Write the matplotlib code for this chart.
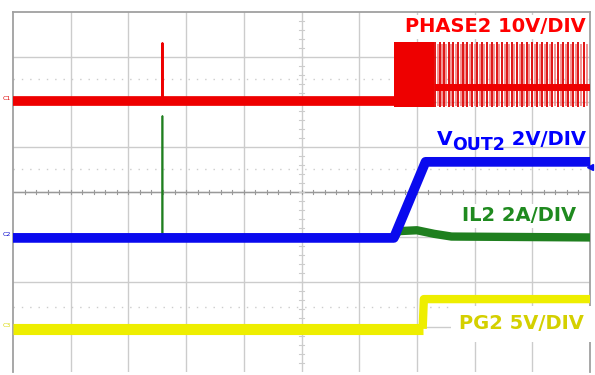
import numpy as np
import matplotlib.pyplot as plt

# all values in scope divisions (x: 0..10, y: -4..4)
# PHASE2 (switch node)
ph_base_x = [0.0, 6.62]
ph_base_y = [2.02, 2.02]
ph_spike_x = [2.585, 2.59, 2.595]
ph_spike_y = [2.02, 3.31, 2.02]
ph_block = [6.61, 7.29]          # start / end of dense switching block
ph_high, ph_low = 3.33, 1.89
ph_mid_x = [7.29, 10.0]
ph_mid_y = [2.34, 2.34]
pulses_strong = [7.32, 7.40, 7.47, 7.55, 7.63, 7.72, 7.80, 7.87, 7.96, 8.05, 8.13,
                 8.21, 8.30, 8.38, 8.47, 8.56, 8.64, 8.73, 8.82, 8.90, 8.99, 9.08,
                 9.17, 9.26, 9.35, 9.44, 9.53, 9.62, 9.71, 9.80, 9.90]
pulses_faint = [7.36, 7.44, 7.51, 7.59, 7.68, 7.76, 7.84, 7.92, 8.01, 8.09, 8.17,
                8.26, 8.34, 8.43, 8.52, 8.60, 8.69, 8.78, 8.86, 8.95, 9.04, 9.13,
                9.22, 9.31, 9.40, 9.49, 9.58, 9.67, 9.76, 9.85, 9.95]

# VOUT2
vout_x = [0.0, 6.60, 7.15, 10.0]
vout_y = [-1.02, -1.02, 0.67, 0.67]

# IL2
il_spike_x = [2.585, 2.59, 2.595]
il_spike_y = [-1.02, 1.69, -1.02]
il_x = [6.60, 6.68, 7.00, 7.30, 7.60, 10.0]
il_y = [-1.02, -0.87, -0.85, -0.93, -0.99, -1.01]

# PG2
pg_x = [0.0, 7.10, 7.12, 10.0]
pg_y = [-3.04, -3.04, -2.38, -2.38]

fig = plt.figure(figsize=(5.95, 3.75), dpi=100)
ax = fig.add_axes([13 / 595, 3 / 375, 577 / 595, 360 / 375])
ax.set_xlim(0, 10)
ax.set_ylim(-4, 4)

# graticule
for xv in range(1, 10):
    ax.axvline(xv, color='#cccccc', lw=1.0, zorder=0)
for yv in range(-3, 4):
    ax.axhline(yv, color='#cccccc', lw=1.0, zorder=0)
ax.axhline(0, color='#999999', lw=1.0, zorder=0)
for xt in np.arange(0.2, 10, 0.2):
    ax.plot([xt, xt], [-0.05, 0.05], color='#999999', lw=0.8, zorder=0)
for yt in np.arange(-3.8, 4, 0.2):
    ax.plot([4.96, 5.04], [yt, yt], color='#cccccc', lw=0.8, zorder=0)
for yd in [2.51, 0.51, -2.56]:
    ax.axhline(yd, color='#cccccc', lw=1.0, ls=(0, (1, 5)), zorder=0)
for s in ['top', 'left', 'right']:
    ax.spines[s].set_color('#a0a0a0')
    ax.spines[s].set_linewidth(1.3)
ax.spines['bottom'].set_visible(False)
ax.set_xticks([])
ax.set_yticks([])

# PHASE2
red = '#ee0000'
ax.plot(ph_base_x, ph_base_y, color=red, lw=7, solid_capstyle='butt', zorder=3)
ax.plot(ph_spike_x, ph_spike_y, color=red, lw=1.5, zorder=3)
ax.fill_between(ph_block, ph_low, ph_high, color=red, lw=0, zorder=3)
ax.vlines(pulses_faint, ph_low + 0.03, ph_high - 0.03, color='#f08080', lw=1.2, zorder=3)
ax.vlines(pulses_strong, ph_low, ph_high, color='#dd0000', lw=1.3, zorder=3)
ax.plot(ph_mid_x, ph_mid_y, color=red, lw=5, solid_capstyle='butt', zorder=3)

# IL2 / VOUT2
green = '#1f7f1f'
ax.plot(il_spike_x, il_spike_y, color=green, lw=1.2, zorder=4)
ax.plot(il_x, il_y, color=green, lw=6, solid_capstyle='butt', zorder=4)
blue = '#0a0aee'
ax.plot(vout_x, vout_y, color=blue, lw=7, solid_capstyle='butt', zorder=5)
ax.plot([10.0], [0.55], marker='<', color=blue, ms=4, clip_on=False, zorder=6)

# PG2
yellow = '#eeee00'
ax.plot(pg_x[:2], pg_y[:2], color=yellow, lw=8, solid_capstyle='butt', zorder=4)
ax.plot(pg_x[1:], pg_y[1:], color=yellow, lw=6, solid_capstyle='butt', zorder=4)

# channel markers
for yc, lab, c in [(2.08, 'C1', '#dd0000'), (-0.95, 'C2', '#0000cc'), (-2.97, 'C3', '#d8d800')]:
    ax.text(-0.03, yc, lab, color=c, fontsize=4.5, ha='right', va='center', clip_on=False)

# labels
box = dict(facecolor='white', edgecolor='none', pad=2)
ax.text(9.93, 3.67, 'PHASE2 10V/DIV', color='#ff0000', fontsize=14, fontweight='bold',
        ha='right', va='center', bbox=box, zorder=7)
ax.text(9.76, -0.53, 'IL2 2A/DIV', color='#1f8a1f', fontsize=14, fontweight='bold',
        ha='right', va='center', bbox=box, zorder=7)
ax.text(9.90, -2.93, 'PG2 5V/DIV', color='#d4d000', fontsize=14, fontweight='bold',
        ha='right', va='center', bbox=dict(facecolor='white', edgecolor='none', pad=6), zorder=7)

# V_OUT2 label built from pieces so the subscript can be larger than mathtext's
renderer = fig.canvas.get_renderer()
t3 = ax.text(9.93, 1.16, ' 2V/DIV', color='#0000ff', fontsize=14, fontweight='bold',
             ha='right', va='center', zorder=7)
w3 = t3.get_window_extent(renderer).width
t2 = ax.annotate('OUT2', (9.93, 1.16), xytext=(-w3 * 0.72, -4), textcoords='offset points',
                 color='#0000ff', fontsize=12.5, fontweight='bold', ha='right', va='center', zorder=7)
w2 = t2.get_window_extent(renderer).width
ax.annotate('V', (9.93, 1.16), xytext=(-(w3 + w2) * 0.72, 0), textcoords='offset points',
            color='#0000ff', fontsize=14.5, fontweight='bold', ha='right', va='center', zorder=7)

plt.savefig('out.png', dpi=100)
